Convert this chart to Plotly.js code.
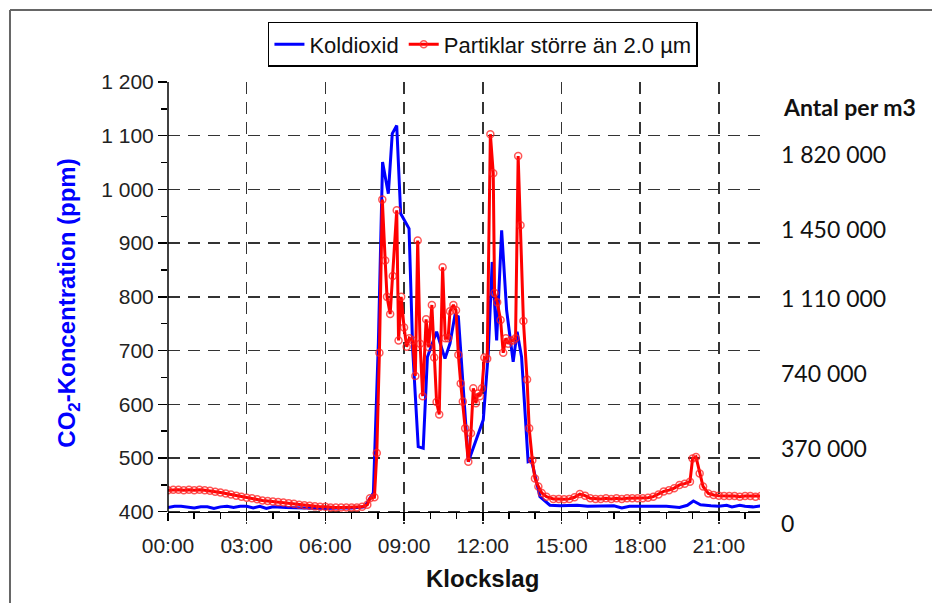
<!DOCTYPE html>
<html>
<head>
<meta charset="utf-8">
<script src="https://cdn.plot.ly/plotly-3.0.1.min.js"></script>
<style>html,body{margin:0;padding:0;background:#fff;}#chart{width:932px;height:603px;}</style>
</head>
<body>
<div id="chart"></div>
<script>
// Time of day in decimal hours
const co2Time = [0,0.25,0.5,0.75,1,1.25,1.5,1.75,2,2.25,2.5,2.75,3,3.25,3.5,3.75,4,4.5,5,5.5,6,6.5,7,7.5,7.83,8.02,8.18,8.40,8.55,8.72,8.87,9.19,9.33,9.54,9.73,9.89,10.24,10.56,10.75,10.94,11.07,11.45,12.02,12.21,12.36,12.53,12.72,12.91,13.16,13.31,13.48,13.73,13.86,14.18,14.56,14.95,15.3,15.6,16,16.5,17,17.3,17.6,18,18.5,19,19.5,19.8,20.03,20.3,20.7,21,21.3,21.5,21.8,22,22.3,22.6];
// CO2 concentration (ppm)
const co2Ppm = [408,410,410,409,407,409,409,406,409,410,408,410,410,407,410,406,409,408,407,407,406,407,407,409,435,714,1051,992,1104,1119,955,927,701,521,518,688,735,685,713,766,763,493,571,695,865,719,924,775,679,735,688,493,495,428,412,411,411,412,410,410,411,407,410,410,410,410,408,412,420,413,411,410,412,409,412,410,409,411];

const partTime = [0,0.2,0.4,0.6,0.8,1.0,1.2,1.4,1.6,1.8,2.0,2.2,2.4,2.6,2.8,3.0,3.2,3.4,3.6,3.8,4.0,4.2,4.4,4.6,4.8,5.0,5.2,5.4,5.6,5.8,6.0,6.2,6.4,6.6,6.8,7.0,7.2,7.4,7.6,
  7.70,7.87,7.96,8.06,8.17,8.28,8.35,8.47,8.57,8.72,8.79,8.89,9.00,9.10,9.20,9.33,9.43,9.52,9.61,9.71,9.84,9.94,10.06,10.15,10.24,10.34,10.47,10.57,10.68,10.75,10.88,10.98,11.07,11.16,11.24,11.33,11.45,11.55,11.64,11.74,11.81,11.89,11.97,12.06,12.17,12.29,12.40,12.45,12.55,12.68,12.78,12.88,12.97,13.06,13.16,13.25,13.35,13.44,13.55,13.69,13.77,13.89,13.99,14.12,14.25,14.43,14.69,
  14.9,15.1,15.3,15.5,15.7,15.9,16.1,16.3,16.5,16.7,16.9,17.1,17.3,17.5,17.7,17.9,18.1,18.3,18.5,18.7,18.9,19.1,19.3,19.5,19.7,19.9,20.0,20.13,20.27,20.4,20.6,20.8,21.0,21.2,21.4,21.6,21.8,22.0,22.2,22.4,22.6];
// Particles larger than 2.0 µm (count per m3)
const partCount = [167000,169000,169000,167000,169000,167000,169000,167000,164000,159000,156000,151000,146000,140000,135000,130000,127000,122000,116000,114000,111000,108000,106000,103000,100000,95000,93000,90000,87000,85000,85000,82000,82000,82000,82000,82000,82000,85000,95000,
  127000,132000,350000,845000,1601000,1301000,1121000,1036000,1224000,1548000,906000,1121000,970000,875000,917000,906000,731000,1399000,890000,631000,1010000,872000,1081000,822000,602000,541000,1267000,917000,917000,1050000,1081000,1055000,835000,694000,604000,472000,307000,448000,670000,596000,644000,631000,670000,822000,816000,1924000,1731000,1140000,1095000,1007000,845000,917000,890000,906000,906000,917000,1816000,1474000,1002000,713000,472000,315000,225000,185000,153000,135000,124000,
  124000,122000,124000,132000,148000,140000,127000,124000,124000,127000,124000,127000,124000,127000,127000,127000,127000,130000,135000,146000,161000,167000,177000,193000,199000,209000,323000,331000,249000,185000,151000,143000,140000,138000,138000,138000,135000,138000,138000,135000,138000];

const xTickVals = [0,3,6,9,12,15,18,21];
const xTickText = ["00:00","03:00","06:00","09:00","12:00","15:00","18:00","21:00"];
const leftTickVals = [400,500,600,700,800,900,1000,1100,1200];
const rightTickVals = [0,370000,740000,1110000,1450000,1820000];

const seriesNames = ["Koldioxid","Partiklar större än 2.0 µm"];

const traces = [
  {x: co2Time, y: co2Ppm, name: seriesNames[0], type: 'scatter', mode: 'lines',
   line: {color: '#0000ff', width: 3}, xaxis: 'x', yaxis: 'y'},
  {x: partTime, y: partCount, name: seriesNames[1], type: 'scatter', mode: 'lines+markers',
   line: {color: '#ff0000', width: 3},
   marker: {symbol: 'circle-open', size: 7, color: 'rgba(255,30,30,0.75)', line: {width: 1.5}},
   xaxis: 'x', yaxis: 'y2'}
];

const tickFont = {family: 'Liberation Sans, Arial, sans-serif', size: 21, color: '#222'};
const rightFont = {family: 'Lato, sans-serif', size: 23, color: '#111'};

const layout = {
  width: 932, height: 603,
  margin: {l: 168, r: 172, t: 82, b: 79},
  paper_bgcolor: '#fff', plot_bgcolor: '#fff',
  separators: ', ',
  showlegend: true,
  legend: {orientation: 'h', x: 0.532, xanchor: 'center', y: 1.136, yanchor: 'top',
    bordercolor: '#000', borderwidth: 1.5, bgcolor: '#fff', itemwidth: 30,
    font: {family: 'Liberation Sans, Arial, sans-serif', size: 22, color: '#111'}},
  xaxis: {
    range: [0, 22.57], tickmode: 'array', tickvals: xTickVals, ticktext: xTickText,
    ticks: 'outside', ticklen: 8, tickwidth: 1.5, tickcolor: '#000',
    showline: true, linecolor: '#000', linewidth: 1.5, zeroline: false,
    showgrid: true, gridcolor: '#333', gridwidth: 1.5, griddash: '12px,8px',
    tickfont: tickFont, anchor: 'free', position: 0.0278, ticklabelstandoff: 7,
    minor: {tickmode: 'linear', tick0: 0, dtick: 1, ticks: 'outside', ticklen: 6, tickcolor: '#000', showgrid: false}
  },
  yaxis: {
    domain: [0, 1], range: [377.1, 1200], tickmode: 'array', tickvals: leftTickVals,
    separatethousands: true,
    ticks: 'outside', ticklen: 9, tickwidth: 1.5, tickcolor: '#000',
    showline: false, zeroline: false,
    showgrid: true, gridcolor: '#333', gridwidth: 1.5, griddash: '12px,8px',
    tickfont: tickFont, anchor: 'x',
    minor: {tickmode: 'linear', tick0: 0, dtick: 50, ticks: 'outside', ticklen: 6, tickcolor: '#000', showgrid: false},
    title: {text: 'CO<sub>2</sub>-Koncentration (ppm)', standoff: 18,
      font: {family: 'Liberation Sans, Arial, sans-serif', size: 24, color: '#0000ff', weight: 'bold'}}
  },
  yaxis2: {
    overlaying: 'y', range: [0, 2181500], side: 'right', anchor: 'x',
    tickmode: 'array', tickvals: rightTickVals, separatethousands: true, exponentformat: 'none',
    ticks: '', showline: false, showgrid: false, zeroline: false,
    ticklabelstandoff: 20, tickfont: rightFont
  },
  annotations: [
    {text: 'Klockslag', xref: 'paper', yref: 'paper', x: 0.531, y: -0.1244, xanchor: 'center', yanchor: 'middle',
     showarrow: false, font: {family: 'Liberation Sans, Arial, sans-serif', size: 24, color: '#111', weight: 'bold'}},
    {text: '<b>Antal per m3</b>', xref: 'paper', yref: 'paper', x: 1.036, y: 0.943, xanchor: 'left', yanchor: 'middle',
     showarrow: false, font: {family: 'Lato, sans-serif', size: 23, color: '#111'}}
  ],
  shapes: [
    {type: 'line', xref: 'paper', yref: 'y', x0: 0, x1: 0, y0: 400, y1: 1200, line: {color: '#000', width: 1.5}},
    {type: 'line', xref: 'paper', yref: 'paper', x0: -0.2669, x1: 1.30, y0: 1.1629, y1: 1.1629, line: {color: '#666', width: 2}},
    {type: 'line', xref: 'paper', yref: 'paper', x0: -0.2669, x1: -0.2669, y0: 1.1629, y1: -0.19, line: {color: '#666', width: 2}}
  ]
};

Plotly.newPlot('chart', traces, layout, {displayModeBar: false, staticPlot: true});
</script>
</body>
</html>
